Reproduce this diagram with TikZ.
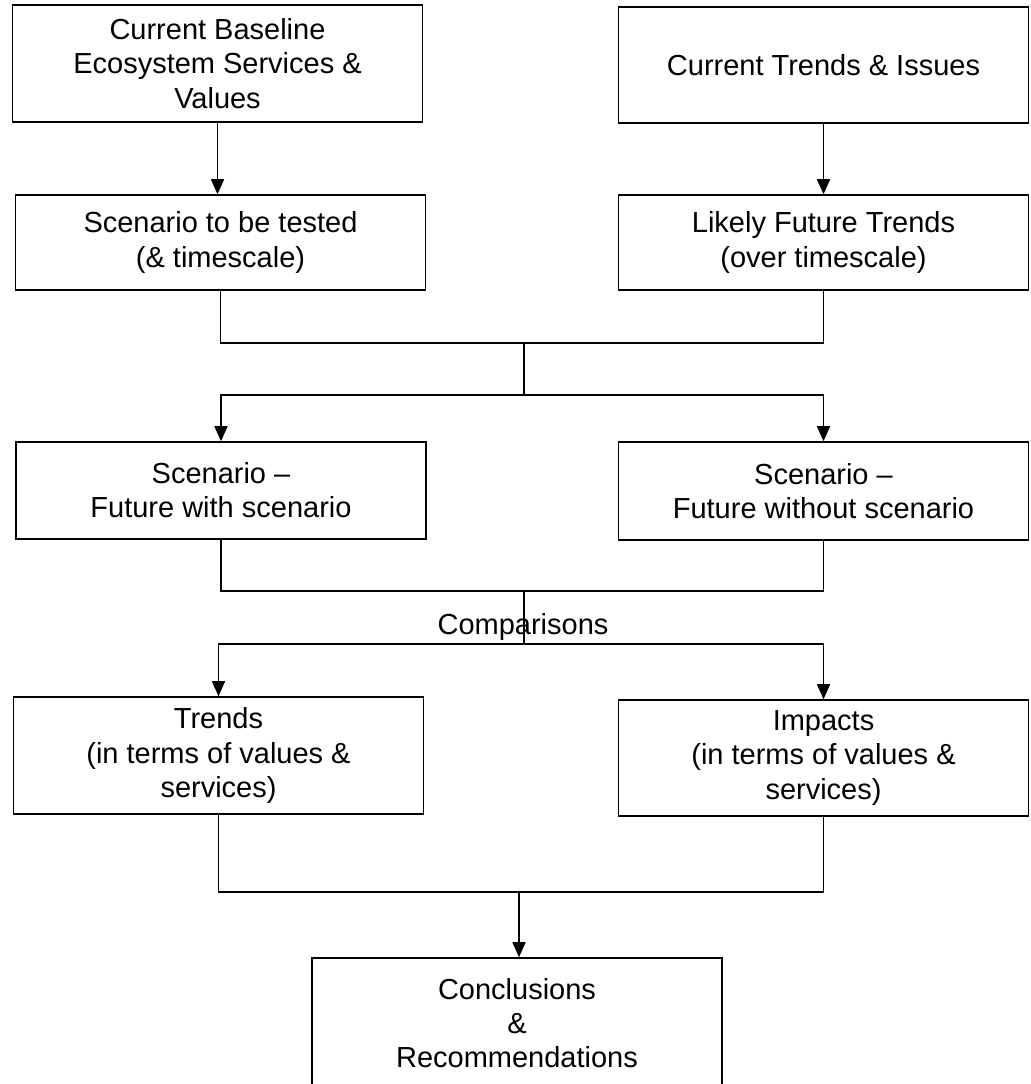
\documentclass[tikz,border=0pt]{standalone}
\usepackage{fontspec}
\setmainfont{Liberation Sans}
\usetikzlibrary{arrows.meta}

\begin{document}
\begin{tikzpicture}[x=0.02cm, y=-0.02cm, >={Triangle[length=0.3cm,width=0.26cm]},
		font=\fontsize{16.5pt}{19.5pt}\selectfont,
		box/.style={draw, line width=0.9pt, minimum width=8.2cm, align=center, inner sep=0pt},
		link/.style={line width=0.9pt}]
		\useasboundingbox (0,0) rectangle (1030,1084);
		\clip (0,0) rectangle (1030,1084);
		% present state
		\node[box, minimum height=2.34cm] (base) at (217.5,63.5) {Current Baseline\\Ecosystem Services \&\\Values};
		\node[box, minimum height=2.32cm] (issues) at (823.5,65) {Current Trends \& Issues};
		\node[box, minimum height=1.9cm] (tested) at (220.5,242.5) {Scenario to be tested\\(\& timescale)};
		\node[box, minimum height=1.9cm] (likely) at (823.5,242.5) {Likely Future Trends\\(over timescale)};
		% futures
		\node[box, minimum height=1.94cm] (with) at (221,490.5) {Scenario --\\Future with scenario};
		\node[box, minimum height=1.96cm] (without) at (823.5,491) {Scenario --\\Future without scenario};
		% outcomes
		\node[box, minimum height=2.34cm] (trends) at (218.5,755.5) {Trends\\(in terms of values \&\\services)};
		\node[box, minimum height=2.32cm] (impacts) at (823.5,758) {Impacts\\(in terms of values \&\\services)};
		\node[box, minimum height=2.6cm] (concl) at (517,1023) {Conclusions\\\&\\Recommendations};
		% junction points
		\coordinate (m1) at (524,343);
		\coordinate (s1) at (524,395);
		\coordinate (m2) at (524,591);
		\coordinate (s2) at (524,644);
		\coordinate (m3) at (519,892);
		% connectors
		\draw[link, ->] (base.south) -- (base.south |- tested.north);
		\draw[link, ->] (issues.south) -- (likely.north);
		\draw[link] (tested.south) |- (m1) -| (likely.south);
		\draw[link] (m1) -- (s1);
		\draw[link, ->] (s1) -| (with.north);
		\draw[link, ->] (s1) -| (without.north);
		\draw[link] (with.south) |- (m2) -| (without.south);
		\draw[link] (m2) -- (s2);
		\node (cmp) at (523,627) {Comparisons};
		\draw[link, ->] (s2) -| (trends.north);
		\draw[link, ->] (s2) -| (impacts.north);
		\draw[link] (trends.south) |- (m3) -| (impacts.south);
		\draw[link, ->] (m3) -- (m3 |- concl.north);
	\end{tikzpicture}
\end{document}
